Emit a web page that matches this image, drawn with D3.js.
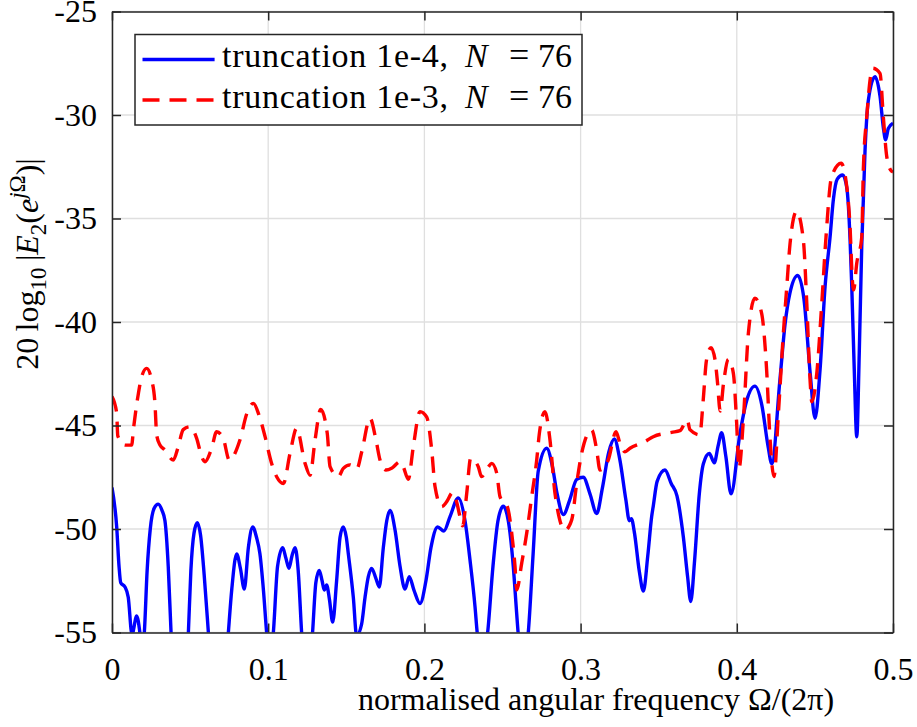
<!DOCTYPE html>
<html>
<head>
<meta charset="utf-8">
<script src="https://cdn.jsdelivr.net/npm/d3@7"></script>
<style>
  html, body { margin: 0; padding: 0; background: #ffffff; }
  svg { display: block; }
</style>
</head>
<body>
<svg id="chart" width="917" height="727"></svg>
<script>
// Frequency response error, two truncation thresholds
const seriesNames = ["truncation 1e-4,", "truncation 1e-3,"];
const orderLabel = "76";

const xTicks = [0, 0.1, 0.2, 0.3, 0.4, 0.5];
const xTickLabels = ["0", "0.1", "0.2", "0.3", "0.4", "0.5"];
const yTicks = [-55, -50, -45, -40, -35, -30, -25];
const yTickLabels = ["-55", "-50", "-45", "-40", "-35", "-30", "-25"];

// truncation 1e-4 (values below -55 dB lie outside the axes)
const freqA = [0.0000,0.0030,0.0045,0.0056,0.0083,0.0104,0.0128,0.0158,0.0180,0.0193,0.0207,0.0225,0.0245,0.0270,0.0296,0.0320,0.0339,0.0360,0.0378,0.0433,0.0489,0.0505,0.0525,0.0546,0.0567,0.0590,0.0617,0.0681,0.0745,0.0767,0.0798,0.0822,0.0847,0.0873,0.0901,0.0925,0.0947,0.0970,0.0990,0.1011,0.1033,0.1060,0.1093,0.1113,0.1133,0.1152,0.1172,0.1192,0.1214,0.1249,0.1284,0.1305,0.1327,0.1345,0.1359,0.1374,0.1392,0.1413,0.1438,0.1460,0.1480,0.1500,0.1513,0.1545,0.1566,0.1598,0.1620,0.1641,0.1662,0.1690,0.1711,0.1737,0.1759,0.1780,0.1812,0.1844,0.1876,0.1903,0.1933,0.1972,0.2010,0.2042,0.2085,0.2125,0.2164,0.2217,0.2260,0.2292,0.2324,0.2338,0.2372,0.2405,0.2439,0.2471,0.2505,0.2537,0.2569,0.2590,0.2600,0.2633,0.2665,0.2696,0.2729,0.2783,0.2820,0.2847,0.2890,0.2930,0.2975,0.3017,0.3060,0.3103,0.3140,0.3180,0.3216,0.3250,0.3290,0.3312,0.3325,0.3345,0.3375,0.3402,0.3430,0.3455,0.3466,0.3490,0.3540,0.3580,0.3617,0.3658,0.3685,0.3705,0.3730,0.3760,0.3786,0.3824,0.3856,0.3880,0.3903,0.3930,0.3963,0.4020,0.4063,0.4116,0.4160,0.4200,0.4224,0.4276,0.4309,0.4340,0.4390,0.4430,0.4470,0.4501,0.4533,0.4565,0.4597,0.4618,0.4643,0.4678,0.4704,0.4725,0.4736,0.4752,0.4768,0.4784,0.4800,0.4821,0.4842,0.4885,0.4917,0.4938,0.4953,0.4970,0.5000];
const magA  = [-48.0,-49.9,-51.8,-52.6,-52.8,-53.3,-55.1,-54.2,-55.1,-56.0,-55.0,-52.0,-50.0,-49.0,-48.8,-49.1,-49.6,-51.8,-55.0,-62.0,-55.0,-52.0,-50.2,-49.7,-50.3,-52.2,-55.0,-62.0,-55.0,-52.9,-51.2,-51.9,-52.9,-50.9,-49.9,-50.4,-51.2,-53.0,-55.0,-56.5,-55.0,-51.8,-50.9,-51.4,-51.9,-51.3,-50.9,-52.0,-55.0,-58.0,-55.0,-52.6,-52.0,-52.5,-52.95,-52.7,-53.4,-54.5,-52.5,-50.4,-49.9,-50.4,-51.2,-53.3,-55.15,-54.6,-53.3,-52.3,-51.9,-52.4,-52.8,-50.9,-49.6,-49.1,-50.05,-51.8,-52.9,-52.3,-52.95,-53.6,-52.5,-50.9,-49.9,-50.1,-49.4,-48.5,-49.6,-51.5,-53.75,-55.0,-56.5,-55.0,-51.8,-49.6,-48.9,-49.6,-51.8,-54.0,-55.0,-56.5,-55.0,-51.2,-47.2,-46.1,-47.0,-48.2,-49.3,-48.6,-47.6,-47.5,-48.3,-49.25,-48.0,-46.3,-45.65,-46.6,-48.6,-49.6,-49.5,-50.2,-52.0,-53.0,-51.3,-49.4,-48.85,-47.7,-47.15,-47.8,-48.4,-50.4,-52.3,-53.5,-51.5,-48.3,-46.85,-46.35,-46.8,-46.0,-45.35,-46.5,-48.3,-45.4,-43.8,-43.1,-44.0,-46.0,-46.85,-42.8,-40.1,-38.6,-37.75,-38.9,-42.5,-44.65,-42.3,-38.3,-35.9,-34.1,-33.1,-32.9,-33.5,-36.0,-38.3,-42.3,-45.55,-41.5,-36.3,-31.7,-29.3,-28.15,-29.1,-30.6,-31.2,-30.65,-30.4];

// truncation 1e-3
const freqB = [0.0000,0.0030,0.0037,0.0084,0.0126,0.0137,0.0169,0.0190,0.0222,0.0254,0.0275,0.0286,0.0307,0.0339,0.0392,0.0424,0.0456,0.0499,0.0542,0.0574,0.0595,0.0638,0.0670,0.0712,0.0751,0.0819,0.0864,0.0905,0.0941,0.0980,0.1022,0.1056,0.1097,0.1140,0.1182,0.1236,0.1268,0.1300,0.1336,0.1378,0.1396,0.1449,0.1481,0.1524,0.1567,0.1599,0.1652,0.1690,0.1716,0.1754,0.1793,0.1844,0.1865,0.1897,0.1929,0.1972,0.2015,0.2047,0.2068,0.2111,0.2143,0.2181,0.2203,0.2228,0.2245,0.2271,0.2296,0.2345,0.2366,0.2409,0.2431,0.2463,0.2484,0.2531,0.2559,0.2580,0.2591,0.2623,0.2655,0.2687,0.2719,0.2736,0.2772,0.2804,0.2836,0.2900,0.2943,0.2975,0.3007,0.3071,0.3103,0.3124,0.3177,0.3227,0.3252,0.3284,0.3316,0.3412,0.3465,0.3583,0.3636,0.3683,0.3700,0.3763,0.3785,0.3806,0.3835,0.3861,0.3875,0.3894,0.3915,0.3946,0.3978,0.3998,0.4014,0.4042,0.4074,0.4116,0.4159,0.4191,0.4212,0.4238,0.4266,0.4298,0.4320,0.4341,0.4383,0.4426,0.4448,0.4469,0.4480,0.4512,0.4544,0.4571,0.4607,0.4668,0.4704,0.4725,0.4740,0.4748,0.4768,0.4800,0.4810,0.4832,0.4870,0.4917,0.4938,0.4960,0.4985,0.5000];
const magB  = [-43.6,-44.4,-45.5,-45.95,-45.95,-45.2,-43.45,-42.64,-42.24,-42.8,-43.93,-45.46,-45.94,-46.18,-46.67,-46.02,-45.2,-45.06,-45.62,-46.5,-46.75,-46.1,-45.3,-45.62,-46.67,-45.7,-44.4,-43.93,-44.5,-45.54,-46.83,-47.5,-47.8,-46.34,-45.14,-46.83,-47.4,-45.7,-44.22,-45.38,-46.99,-47.47,-47.07,-46.9,-47.1,-46.27,-44.65,-45.7,-46.67,-47.15,-47.05,-46.75,-47.0,-47.6,-46.02,-44.33,-44.6,-46.2,-47.95,-48.92,-48.68,-48.24,-48.6,-49.4,-49.85,-48.27,-46.58,-46.99,-47.47,-47.0,-46.83,-47.3,-48.44,-48.92,-50.2,-51.8,-52.95,-51.65,-50.2,-48.44,-46.67,-45.38,-44.33,-45.7,-48.27,-50.05,-49.56,-47.8,-46.34,-45.22,-46.18,-47.15,-46.67,-45.3,-45.86,-46.27,-46.1,-45.78,-45.54,-45.33,-45.25,-44.73,-45.2,-45.45,-43.77,-41.84,-41.24,-41.84,-42.8,-44.3,-42.96,-41.8,-42.48,-44.73,-47.07,-44.73,-40.55,-38.85,-39.58,-42.32,-45.54,-47.47,-44.45,-40.55,-38.3,-36.2,-34.65,-36.04,-39.1,-42.8,-43.85,-42.48,-39.1,-35.9,-32.98,-32.33,-33.46,-35.4,-38.0,-38.45,-37.16,-35.9,-32.66,-30.08,-27.74,-27.99,-30.08,-32.01,-32.66,-32.75];

const plot = { left: 112, right: 893, top: 11.5, bottom: 632.5 };
const axisColor = "#262626";
const gridColor = "#dfdfdf";
const SERIF = '"Liberation Serif"';
const tickFont = 32;

const svg = d3.select("#chart");

const x = d3.scaleLinear().domain([0, 0.5]).range([plot.left, plot.right]);
const y = d3.scaleLinear().domain([-55, -25]).range([plot.bottom, plot.top]);

// grid
const grid = svg.append("g");
grid.selectAll("line.vx").data(xTicks).join("line")
  .attr("x1", d => x(d)).attr("x2", d => x(d))
  .attr("y1", plot.top).attr("y2", plot.bottom)
  .attr("stroke", gridColor).attr("stroke-width", 1.3);
grid.selectAll("line.hy").data(yTicks).join("line")
  .attr("x1", plot.left).attr("x2", plot.right)
  .attr("y1", d => y(d)).attr("y2", d => y(d))
  .attr("stroke", gridColor).attr("stroke-width", 1.3);

// curves, clipped to the axes box
svg.append("defs").append("clipPath").attr("id", "plotclip")
  .append("rect")
  .attr("x", plot.left).attr("y", plot.top)
  .attr("width", plot.right - plot.left).attr("height", plot.bottom - plot.top);

const line = d3.line()
  .x(d => x(d[0]))
  .y(d => y(d[1]))
  .curve(d3.curveMonotoneX);

const ptsA = freqA.map((f, i) => [f, magA[i]]);
const ptsB = freqB.map((f, i) => [f, magB[i]]);

const curves = svg.append("g").attr("clip-path", "url(#plotclip)");
curves.append("path").datum(ptsA)
  .attr("d", line)
  .attr("fill", "none").attr("stroke", "#0000ff")
  .attr("stroke-width", 3.4).attr("stroke-linejoin", "round");
curves.append("path").datum(ptsB)
  .attr("d", line)
  .attr("fill", "none").attr("stroke", "#ff0000")
  .attr("stroke-width", 3.4).attr("stroke-dasharray", "16,10");

// axes with inward ticks on all four sides
function styleAxis(g) {
  g.attr("font-family", SERIF).attr("font-size", tickFont);
  g.selectAll("path.domain").attr("stroke", axisColor).attr("stroke-width", 1.5);
  g.selectAll(".tick line").attr("stroke", axisColor).attr("stroke-width", 1.5);
  g.selectAll(".tick text")
    .attr("font-family", SERIF)
    .attr("font-size", tickFont)
    .attr("fill", "#000");
}

const xAxis = d3.axisBottom(x).tickValues(xTicks)
  .tickFormat((d, i) => xTickLabels[i])
  .tickSizeInner(-9).tickSizeOuter(0).tickPadding(25);
svg.append("g").attr("transform", `translate(0,${plot.bottom})`).call(xAxis).call(styleAxis);

const xAxisTop = d3.axisTop(x).tickValues(xTicks).tickFormat("")
  .tickSizeInner(-9).tickSizeOuter(0);
svg.append("g").attr("transform", `translate(0,${plot.top})`).call(xAxisTop).call(styleAxis);

const yAxis = d3.axisLeft(y).tickValues(yTicks)
  .tickFormat((d, i) => yTickLabels[i])
  .tickSizeInner(-9).tickSizeOuter(0).tickPadding(15);
svg.append("g").attr("transform", `translate(${plot.left},0)`).call(yAxis).call(styleAxis);

const yAxisRight = d3.axisRight(y).tickValues(yTicks).tickFormat("")
  .tickSizeInner(-9).tickSizeOuter(0);
svg.append("g").attr("transform", `translate(${plot.right},0)`).call(yAxisRight).call(styleAxis);

// x label
svg.append("text")
  .attr("x", 596).attr("y", 710)
  .attr("text-anchor", "middle")
  .attr("font-family", SERIF)
  .attr("font-size", 32)
  .text("normalised angular frequency Ω/(2π)");

// y label: 20 log10 |E2(e^{jΩ})|
const yl = svg.append("text")
  .attr("transform", "translate(38,264) rotate(-90)")
  .attr("text-anchor", "middle")
  .attr("font-family", SERIF)
  .attr("font-size", 32);
yl.append("tspan").text("20\u2009log");
yl.append("tspan").attr("dy", 8).attr("font-size", 23).text("10");
yl.append("tspan").attr("dy", -8).text("\u2009|");
yl.append("tspan").attr("font-style", "italic").text("E");
yl.append("tspan").attr("dy", 8).attr("font-size", 23).text("2");
yl.append("tspan").attr("dy", -8).text("(");
yl.append("tspan").attr("font-style", "italic").text("e");
yl.append("tspan").attr("dy", -13).attr("font-size", 23).attr("font-style", "italic").text("j");
yl.append("tspan").attr("font-size", 23).text("Ω");
yl.append("tspan").attr("dy", 13).text(")|");

// legend
const legend = svg.append("g");
legend.append("rect")
  .attr("x", 135).attr("y", 34.5).attr("width", 447).attr("height", 90.5)
  .attr("fill", "#ffffff").attr("stroke", axisColor).attr("stroke-width", 1.5);

const legendRows = [
  { name: seriesNames[0], color: "#0000ff", dash: null, yLine: 59.5, yText: 67 },
  { name: seriesNames[1], color: "#ff0000", dash: "17,10", yLine: 100, yText: 108 }
];
legendRows.forEach(r => {
  legend.append("line")
    .attr("x1", 142.5).attr("x2", 214.6).attr("y1", r.yLine).attr("y2", r.yLine)
    .attr("stroke", r.color).attr("stroke-width", 3.4)
    .attr("stroke-dasharray", r.dash);
  legend.append("text").attr("x", 222).attr("y", r.yText)
    .attr("font-family", SERIF).attr("font-size", 34)
    .attr("textLength", 226).attr("lengthAdjust", "spacing")
    .text(r.name);
  legend.append("text").attr("x", 465).attr("y", r.yText)
    .attr("font-family", SERIF).attr("font-size", 34).attr("font-style", "italic").text("N");
  legend.append("text").attr("x", 509).attr("y", r.yText)
    .attr("font-family", SERIF).attr("font-size", 36).text("=");
  legend.append("text").attr("x", 538).attr("y", r.yText)
    .attr("font-family", SERIF).attr("font-size", 34).text(orderLabel);
});
</script>
</body>
</html>
